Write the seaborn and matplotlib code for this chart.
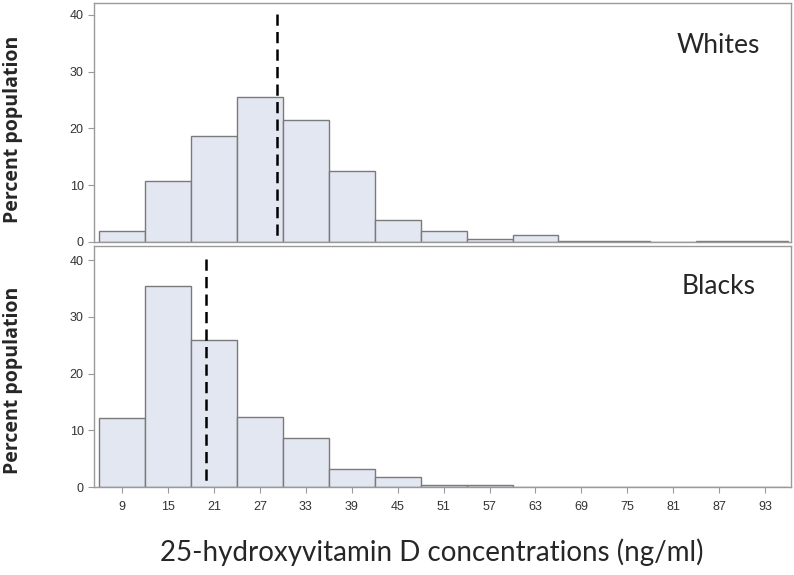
import numpy as np
import pandas as pd
import matplotlib
matplotlib.use("Agg")
import matplotlib.pyplot as plt
import seaborn as sns

# bin centres (ng/ml), bins are 6 wide
centres = [9, 15, 21, 27, 33, 39, 45, 51, 57, 63, 69, 75, 81, 87, 93]
whites = [2.0, 10.8, 18.7, 25.5, 21.5, 12.5, 3.9, 1.9, 0.6, 1.3, 0.25, 0.25, 0.0, 0.25, 0.25]
blacks = [12.1, 35.4, 25.9, 12.3, 8.6, 3.1, 1.7, 0.4, 0.4, 0, 0, 0, 0, 0, 0]
means = {"Whites": 29.2, "Blacks": 19.9}
ticks_x = centres
ticks_y = [0, 10, 20, 30, 40]

edges = list(range(6, 97, 6))
df = pd.DataFrame({"centre": centres * 2,
                   "pct": whites + blacks,
                   "group": ["Whites"] * len(centres) + ["Blacks"] * len(centres)})

sns.set_style("white")
plt.rcParams["font.family"] = ["Liberation Sans", "DejaVu Sans"]

fig = plt.figure(figsize=(7.94, 5.75), dpi=100)
ax_top = fig.add_axes([94/794, 1 - 242/575, 697/794, 239/575])
ax_bot = fig.add_axes([94/794, 1 - 487/575, 697/794, 241/575])

grey = "#9a9a9a"
for ax, grp, ymax, ty in [(ax_top, "Whites", 42.1, 0.824), (ax_bot, "Blacks", 42.5, 0.834)]:
    sub = df[(df.group == grp) & (df.pct > 0)]
    sns.histplot(data=sub, x="centre", weights="pct", bins=edges, ax=ax,
                 color="#e3e7f1", edgecolor="#7a7a7a", linewidth=1.0, alpha=1)
    # mean line, drawn top-down so the dash pattern starts at the top
    ax.plot([means[grp], means[grp]], [40.2, 0], color="black",
            linestyle=(0, (4.5, 2.5)), linewidth=1.8)
    ax.set_xlim(5.3, 96.4)
    ax.set_ylim(0, ymax)
    ax.set_yticks(ticks_y)
    ax.set_xlabel("")
    ax.set_ylabel("")
    for s in ax.spines.values():
        s.set_color(grey)
        s.set_linewidth(1.0)
    ax.tick_params(axis="y", direction="out", length=4, color=grey,
                   labelsize=9, labelcolor="#333333", left=True)
    ax.text(0.896, ty, grp, transform=ax.transAxes, ha="center", va="center",
            fontsize=19, family=["Lato", "DejaVu Sans"])

ax_top.set_xticks([])
ax_bot.set_xticks(ticks_x)
ax_bot.tick_params(axis="x", direction="out", length=4, color=grey,
                   labelsize=9, labelcolor="#333333", bottom=True, pad=6)

for yc in (129, 380):
    fig.text(13/794, 1 - yc/575, "Percent population", rotation=90, ha="center",
             va="center", fontsize=14, fontweight="bold",
             family=["Open Sans", "DejaVu Sans"])
fig.text(432/794, 1 - 552/575, "25-hydroxyvitamin D concentrations (ng/ml)",
         ha="center", va="center", fontsize=20, family=["Lato", "DejaVu Sans"])

fig.savefig("out.png", dpi=100)
